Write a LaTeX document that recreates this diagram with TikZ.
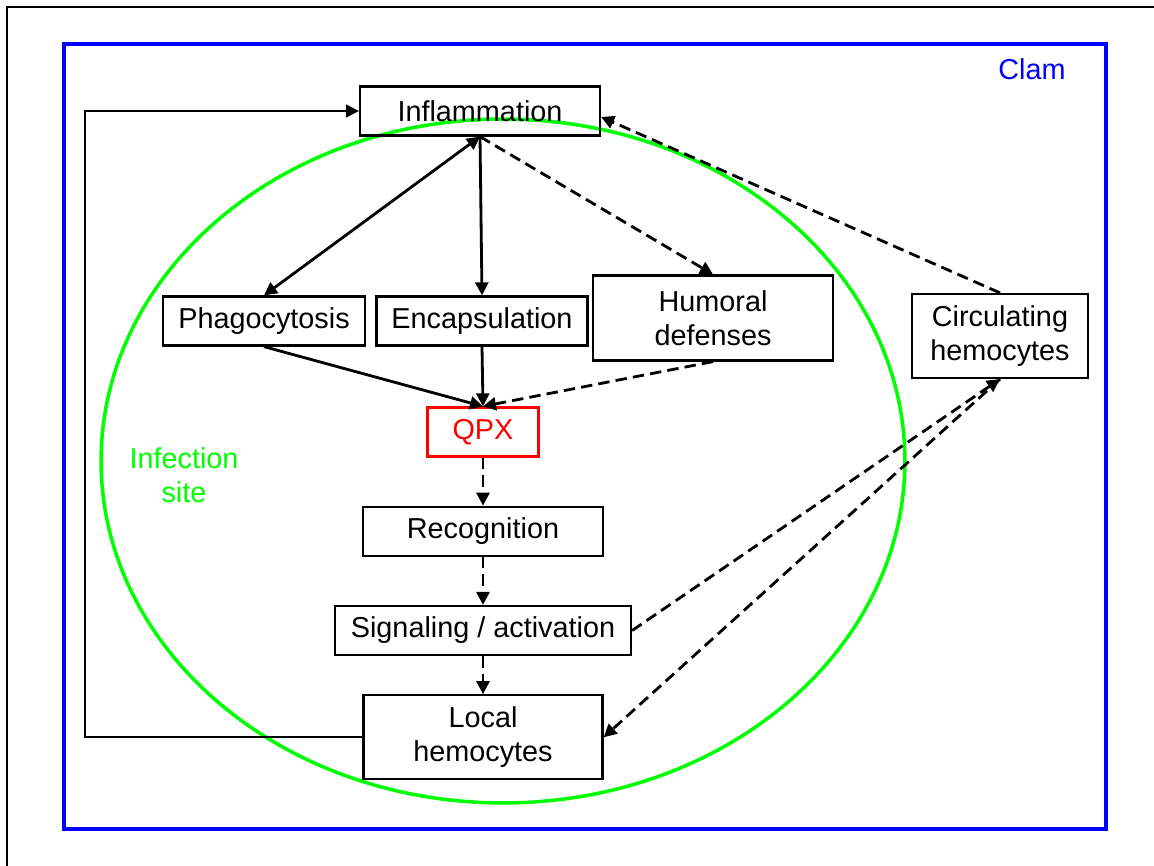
\documentclass[tikz,border=0pt]{standalone}
\usepackage{fontspec}
\setmainfont{Liberation Sans}
\usetikzlibrary{arrows.meta,positioning}

\begin{document}
\begin{tikzpicture}[x=0.02cm,y=-0.02cm, every node/.style={font=\fontsize{16.4}{19.6}\selectfont,align=center},
 box/.style={draw,line width=1.3pt,inner sep=0pt,minimum height=0.98cm},
 arr/.style={-{Triangle[length=2.6mm,width=2.6mm]},line width=1.6pt},
 darr/.style={arr,dash pattern=on 6.5pt off 3.5pt}]
\clip (0,0) rectangle (1154,866);
\draw[line width=0.9pt] (7,7) rectangle (1180,900);
\draw[blue,line width=2pt] (64,44) rectangle (1106,829);
\node[text=blue] (clam) at (1032,69) {Clam};
\draw[green,line width=2pt] (503,461) ellipse [x radius=8.04cm,y radius=6.84cm];
\node[text=green] (site) at (184,475) {Infection\\site};
% boxes
\node[box,minimum width=4.8cm] (infl) at (480,111) {Inflammation};
\node[box,minimum width=4.04cm] (phago) at (264,321) {Phagocytosis};
\node[box,minimum width=4.22cm] (encap) at (482,321) {Encapsulation};
\node[box,minimum width=4.8cm,minimum height=1.7cm] (humor) at (713,318) {Humoral\\defenses};
\node[box,minimum width=3.52cm,minimum height=1.68cm] (circ) at (1000,336) {Circulating\\hemocytes};
\node[box,draw=red,text=red,minimum width=2.22cm] (qpx) at (483,432) {QPX};
\node[box,minimum width=4.8cm,below=0.96cm of qpx] (recog) {Recognition};
\node[box,minimum width=5.92cm,below=0.96cm of recog] (signal) {Signaling / activation};
\node[box,minimum width=4.78cm,minimum height=1.68cm,below=0.76cm of signal] (local) {Local\\hemocytes};
\coordinate (loopx) at (85,0);
% connectors
\draw[arr,{Triangle[length=2.6mm,width=2.6mm]}-{Triangle[length=2.6mm,width=2.6mm]}] (phago.north)--(infl.south);
\draw[arr] (infl.south)--(encap.north);
\draw[darr] (infl.south)--(humor.north);
\draw[darr] (circ.north)--([yshift=-0.12cm]infl.east);
\draw[arr] (phago.south)--(qpx.north);\draw[arr] (encap.south)--(qpx.north);
\draw[darr] (humor.south)--(qpx.north);
\draw[darr] (qpx)--(recog);\draw[darr] (recog)--(signal);\draw[darr] (signal)--(local);
\draw[darr] (signal.east)--(circ.south);
\draw[darr] (circ.south)--(local.east);
\draw[-{Triangle[length=2.6mm,width=2.6mm]},line width=1pt] (local.west)--(local.west -| loopx)|-(infl.west);
\end{tikzpicture}
\end{document}
